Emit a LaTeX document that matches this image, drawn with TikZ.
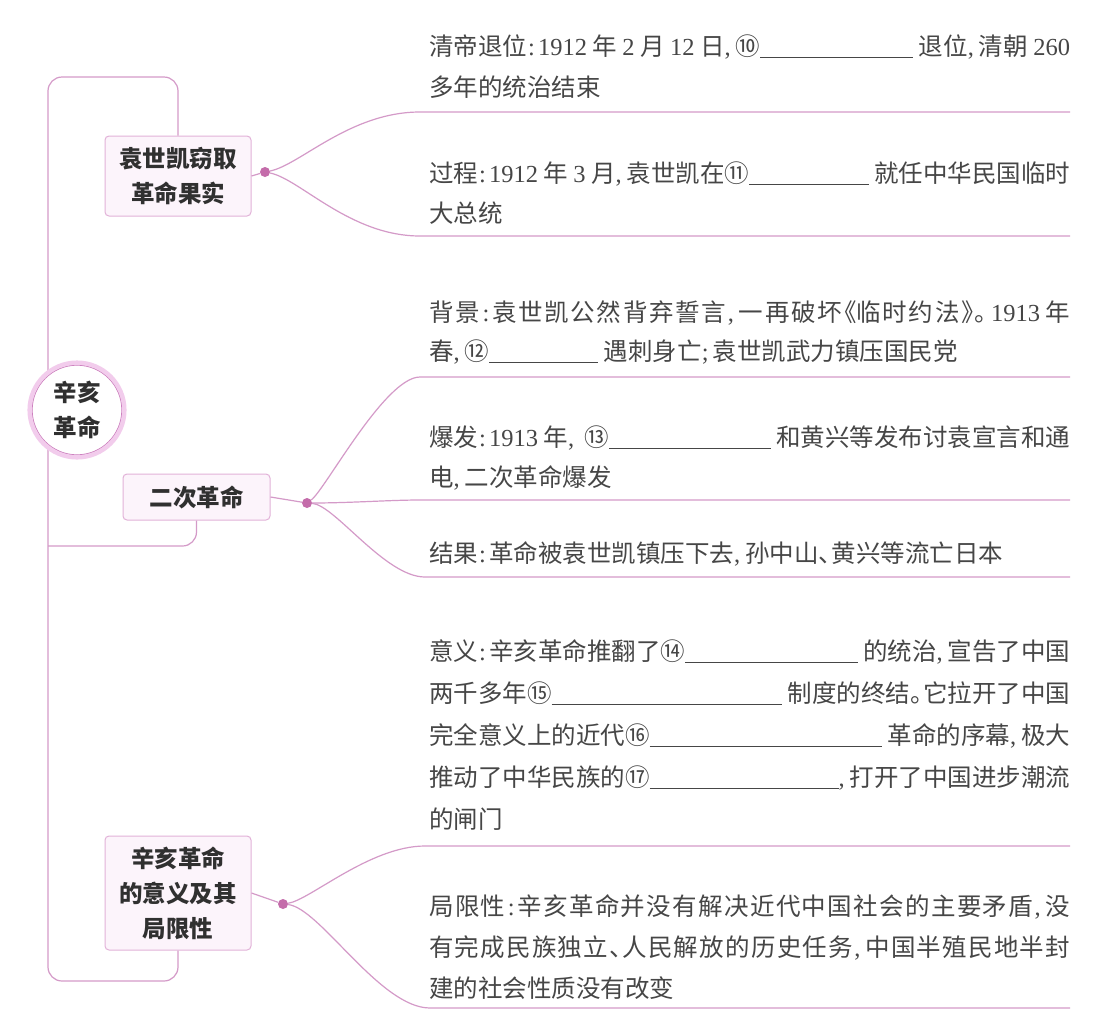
\documentclass[tikz,border=0pt]{standalone}
\usepackage{fontspec}
\setmainfont{Noto Sans CJK SC}
\newfontfamily\lf{Liberation Serif}
\definecolor{linec}{RGB}{212,154,200}
\definecolor{dotc}{RGB}{196,108,170}
\definecolor{boxborder}{RGB}{226,178,216}
\definecolor{boxfill}{RGB}{252,244,251}
\definecolor{glowc}{RGB}{242,204,236}
\definecolor{rootborder}{RGB}{200,120,185}
\definecolor{txtc}{RGB}{70,70,70}
\definecolor{boldc}{RGB}{48,48,48}
\newcommand\lt[1]{{\lf #1}}
\newcommand\co{{\lf\kern1pt:\kern3pt}}
\newcommand\cm{{\lf,\kern5pt}}
\newcommand\sm{{\lf;\kern4pt}}
\newcommand\dn{\makebox[13pt][l]{、}}
\newcommand\jh{\makebox[13pt][l]{。}}
\newcommand\lb{\makebox[13pt][r]{《}}
\newcommand\rb{\makebox[13pt][l]{》}}
\newcommand\blank{\leaders\hrule height -2.2pt depth 3.4pt\hfill}
\newcommand\fixblank[1]{\rule[-3.4pt]{#1}{1.2pt}}
\newcommand\fl[1]{\makebox[641pt][s]{#1}}
\newcommand\jsend{}
\def\js#1{\jsi#1\jsend}
\def\jsi#1{\ifx#1\jsend\else#1\hskip0pt plus 1fil\expandafter\jsi\fi}
\tikzset{
  conn/.style={draw=linec, line width=1.2pt},
  box/.style={draw=boxborder, fill=boxfill, rounded corners=4pt, line width=1pt,
    align=center, text=boldc, inner sep=0pt,
    font=\bfseries\fontsize{23.5}{35}\selectfont},
  dotn/.style={circle, fill=dotc, inner sep=0pt, minimum size=10pt},
  rootn/.style={circle, draw=rootborder, line width=1.2pt, fill=white,
    minimum size=90pt, inner sep=0pt, align=center, text=boldc,
    font=\bfseries\fontsize{23.5}{35}\selectfont},
  txt/.style={anchor=base west, inner sep=0pt, text=txtc,
    font=\fontsize{24.5}{30}\selectfont}
}
\begin{document}
\begin{tikzpicture}[x=1pt,y=-1pt]
\fill[white] (0,0) rectangle (1100,1034);
\useasboundingbox (0,0) rectangle (1100,1034);

% branch boxes and dots
\node[box, minimum width=146pt, minimum height=80pt] (b1) at (178,176) {袁世凯窃取\\革命果实};
\node[box, minimum width=147pt, minimum height=46pt] (b2) at (196.5,497) {二次革命};
\node[box, minimum width=146pt, minimum height=114pt] (b3) at (178,893) {辛亥革命\\的意义及其\\局限性};
\node[dotn] (d1) at (265,172) {};
\node[dotn] (d2) at (307,503) {};
\node[dotn] (d3) at (283,904) {};

% left bracket
\coordinate (tl) at (48,77);
\coordinate (bl) at (48,981);
\coordinate (ml) at (48,546);
\draw[conn, rounded corners=14pt] (b1.north) |- (tl) -- (bl) -| (b3.south);
\draw[conn, rounded corners=14pt] (b2.south) |- (ml);

% root
\node[rootn] (root) at (77,410) {辛亥\\革命};
\draw[draw=glowc, line width=4.5pt] (root.center) circle (47.3);

% box to dot
\draw[conn] (b1.east) -- (d1);
\draw[conn] (b2.east) -- (d2);
\draw[conn] (b3.east) -- (d3);

% branch end coordinates
\coordinate (e1a) at (1070,112);
\coordinate (e1b) at (1070,236);
\coordinate (e2a) at (1070,377);
\coordinate (e2b) at (1070,500);
\coordinate (e2c) at (1070,577);
\coordinate (e3a) at (1070,846);
\coordinate (e3b) at (1070,1008);

\draw[conn] (d1) .. controls (300,165) and (350,112) .. (420,112) -- (e1a);
\draw[conn] (d1) .. controls (300,179) and (350,236) .. (420,236) -- (e1b);
\draw[conn] (d2) .. controls (325,490) and (385,377) .. (420,377) -- (e2a);
\draw[conn] (d2) .. controls (350,503) and (390,500) .. (420,500) -- (e2b);
\draw[conn] (d2) .. controls (335,505) and (385,577) .. (425,577) -- (e2c);
\draw[conn] (d3) .. controls (310,900) and (370,846) .. (425,846) -- (e3a);
\draw[conn] (d3) .. controls (320,908) and (380,1008) .. (430,1008) -- (e3b);

% texts
\node[txt] (t1a) at (429,55) {\fl{清帝退位\co\lt{1912} 年 \lt{2} 月 \lt{12} 日\cm⑩\blank\ 退位\cm 清朝 \lt{260}}};
\node[txt] (t1b) at (429,96) {多年的统治结束};

\node[txt] (t2a) at (429,182) {\fl{过程\co\lt{1912} 年 \lt{3} 月\cm 袁世凯在⑪\blank\ 就任中华民国临时}};
\node[txt] (t2b) at (429,222) {大总统};

\node[txt] (t3a) at (429,321) {\fl{\js{背景}\co\js{袁世凯公然背弃誓言}\cm\js{一再破坏}\lb\js{临时约法}\rb\jh\kern4pt\lt{1913} 年}};
\node[txt] (t3b) at (429,360) {春\cm⑫\fixblank{109pt}\ 遇刺身亡\sm 袁世凯武力镇压国民党};

\node[txt] (t4a) at (429,446) {\fl{爆发\co\lt{1913} 年\cm\ ⑬\blank\ 和黄兴等发布讨袁宣言和通}};
\node[txt] (t4b) at (429,486) {电\cm 二次革命爆发};

\node[txt] (t5a) at (429,562) {结果\co 革命被袁世凯镇压下去\cm 孙中山\dn 黄兴等流亡日本};

\node[txt] (t6a) at (429,660) {\fl{意义\co 辛亥革命推翻了⑭\blank\ 的统治\cm 宣告了中国}};
\node[txt] (t6b) at (429,702) {\fl{两千多年⑮\blank\ 制度的终结\jh 它拉开了中国}};
\node[txt] (t6c) at (429,744) {\fl{完全意义上的近代⑯\blank\ 革命的序幕\cm 极大}};
\node[txt] (t6d) at (429,786) {\fl{推动了中华民族的⑰\blank\cm 打开了中国进步潮流}};
\node[txt] (t6e) at (429,828) {的闸门};

\node[txt] (t7a) at (429,915) {\fl{\js{局限性}\co\js{辛亥革命并没有解决近代中国社会的主要矛盾}\cm 没}};
\node[txt] (t7b) at (429,956) {\fl{\js{有完成民族独立}\dn\js{人民解放的历史任务}\cm\js{中国半殖民地半}封}};
\node[txt] (t7c) at (429,997) {建的社会性质没有改变};
\end{tikzpicture}
\end{document}
